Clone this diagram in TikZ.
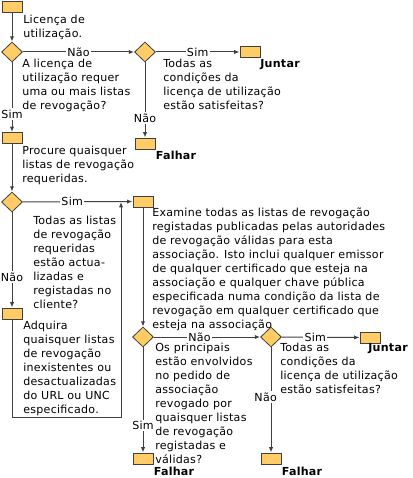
\documentclass[tikz,border=0pt]{standalone}
\usepackage{fontspec}
\setmainfont{DejaVu Sans}[LetterSpace=2.5]
\usetikzlibrary{shapes.geometric,arrows.meta}
\definecolor{boxfill}{HTML}{FFCC66}
\definecolor{edge}{HTML}{404040}
\tikzset{
 box/.style={draw=edge, fill=boxfill, line width=0.75pt, minimum width=15pt, minimum height=8.25pt, inner sep=0},
 dia/.style={diamond, draw=edge, fill=boxfill, line width=0.6pt, minimum width=15.75pt, minimum height=15pt, inner sep=0},
 txt/.style={anchor=north west, inner sep=0, align=left, font=\fontsize{8.3}{10.5}\selectfont},
 lab/.style={fill=white, inner sep=1pt, font=\fontsize{8.3}{10}\selectfont},
 res/.style={inner sep=0, font=\fontsize{8.3}{10}\selectfont\bfseries},
 flow/.style={draw=edge, line width=0.75pt, -{Latex[length=4pt,width=3.2pt]}},
}
\begin{document}
\begin{tikzpicture}[x=0.75pt,y=-0.75pt]
\useasboundingbox (0,0) rectangle (412,478);
% top row
\node[box] (b1) at (12,7.5) {};
\node[txt] (t1) at (23,15) {Licença de\\utilização.};
\node[dia] (d1) at (12,52) {};
\node[txt] (t2) at (22,59) {A licença de\\utilização requer\\uma ou mais listas\\de revogação?};
\node[dia] (d2) at (145,52) {};
\node[txt] (t3) at (163,59) {Todas as\\condições da\\licença de utilização\\estão satisfeitas?};
\node[box] (j1) at (250,52) {};
\node[res] (j1t) at (280,65) {Juntar};
\node[box] (f1) at (145,143.5) {};
\node[res] (f1t) at (176,155) {Falhar};
% left column
\node[box] (b2) at (12,138) {};
\node[txt] (t4) at (22,146) {Procure quaisquer\\listas de revogação\\requeridas.};
\node[dia] (d3) at (12,202) {};
\node[txt] (t5) at (33,216) {Todas as listas\\de revogação\\requeridas\\estão actua-\\lizadas e\\registadas no\\cliente?};
\node[box] (b4) at (12,313.5) {};
\node[txt] (t6) at (23,321) {Adquira\\quaisquer listas\\de revogação\\inexistentes ou\\desactualizadas\\do URL ou UNC\\especificado.};
\coordinate (c1) at (12,417);
\coordinate (c2) at (121,417);
\coordinate (c3) at (121,202);
% right part
\node[box] (b3) at (143,201.5) {};
\node[txt] (t7) at (152,208) {Examine todas as listas de revogação\\registadas publicadas pelas autoridades\\de revogação válidas para esta\\associação. Isto inclui qualquer emissor\\de qualquer certificado que esteja na\\associação e qualquer chave pública\\especificada numa condição da lista de\\revogação em qualquer certificado que\\esteja na associação};
\node[dia] (d5) at (143,337) {};
\node[txt] (t8) at (155,343) {Os principais\\estão envolvidos\\no pedido de\\associação\\revogado por\\quaisquer listas\\de revogação\\registadas e\\válidas?};
\node[dia] (d6) at (271,337) {};
\node[txt] (t9) at (280,343) {Todas as\\condições da\\licença de utilização\\estão satisfeitas?};
\node[box] (j2) at (370,337.5) {};
\node[res] (j2t) at (388,349) {Juntar};
\node[box] (f2) at (143,458.5) {};
\node[res] (f2t) at (174,471) {Falhar};
\node[box] (f3) at (271,458.5) {};
\node[res] (f3t) at (302,471) {Falhar};
% connectors
\draw[flow] (b1) -- (d1);
\draw[flow] (d1) -- node[lab]{Não} (d2);
\draw[flow] (d2) -- node[lab]{Sim} (j1);
\draw[flow] (d1) -- node[lab,pos=0.74]{Sim} (b2);
\draw[flow] (d2) -- node[lab,pos=0.74]{Não} (f1);
\draw[flow] (b2) -- (d3);
\draw[flow] (d3) -- node[lab,pos=0.45]{Sim} (b3);
\draw[flow] (d3) -- node[lab,pos=0.68]{Não} (b4);
\draw[flow] (b4) -- (c1) -- (c2) -- (c3);
\draw[flow] (b3) -- (d5);
\draw[flow] (d5) -- node[lab,pos=0.43]{Não} (d6);
\draw[flow] (d6) -- node[lab,pos=0.43]{Sim} (j2);
\draw[flow] (d5) -- node[lab,pos=0.745]{Sim} (f2);
\draw[flow] (d6) -- node[lab,pos=0.47,xshift=-4pt]{Não} (f3);
\end{tikzpicture}
\end{document}
